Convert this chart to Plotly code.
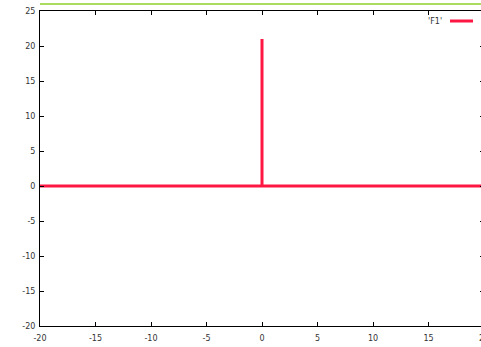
import plotly.graph_objects as go

x_vals = [-20, 0, 0, 0, 20]
y_vals = [0, 0, 21, 0, 0]
x_ticks = [-20, -15, -10, -5, 0, 5, 10, 15, 20]
y_ticks = [-20, -15, -10, -5, 0, 5, 10, 15, 20, 25]
series_name = "'F1'"
RED = "#ff1744"

fig = go.Figure()
fig.add_trace(go.Scatter(x=x_vals, y=y_vals, mode="lines",
                         line=dict(color=RED, width=3), showlegend=False,
                         name=series_name))

axis_common = dict(showgrid=False, zeroline=False, showline=True, linecolor="black",
                   linewidth=1, mirror="ticks", ticks="inside", ticklen=4,
                   tickcolor="black", ticklabeloverflow="allow", automargin=False,
                   tickfont=dict(family="DejaVu Sans", size=8, color="#333"))
fig.update_xaxes(range=[-20, 20], tickvals=x_ticks, ticktext=[str(v) for v in x_ticks],
                 ticklabelstandoff=4, **axis_common)
fig.update_yaxes(range=[-20, 25], tickvals=y_ticks, ticktext=[str(v) for v in y_ticks],
                 ticklabelstandoff=2, **axis_common)

fig.add_shape(type="line", xref="paper", yref="paper", x0=0, x1=1, y0=1 + 7/315, y1=1 + 7/315,
              line=dict(color="#8fd12a", width=1.5))
fig.add_shape(type="line", xref="paper", yref="paper", x0=(450-40)/444, x1=(473-40)/444,
              y0=(326-21)/315, y1=(326-21)/315, line=dict(color=RED, width=3))
fig.add_annotation(text=series_name, xref="paper", yref="paper", x=(444-40)/444, y=(326-21)/315,
                   xanchor="right", yanchor="middle", showarrow=False,
                   font=dict(family="DejaVu Sans", size=8, color="#333"))

fig.update_layout(width=484, height=347, margin=dict(l=40, r=0, t=11, b=21, autoexpand=False),
                  plot_bgcolor="white", paper_bgcolor="white")
fig.write_html("out.html")
